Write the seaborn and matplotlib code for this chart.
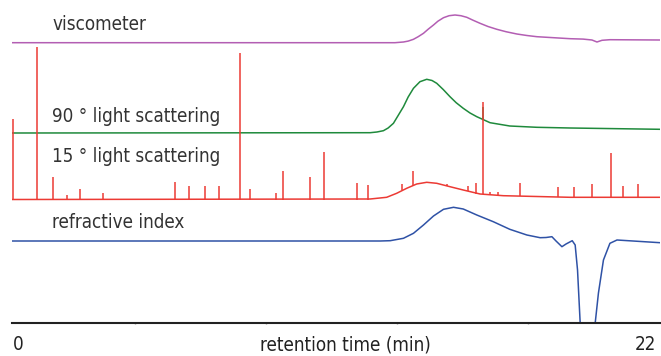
import matplotlib.pyplot as plt
import seaborn as sns
import pandas as pd

# detector traces (time in min, signal in arbitrary units)
visc_t = [0, 13.00, 13.29, 13.45, 13.63, 13.79, 13.97, 14.13, 14.31, 14.46, 14.65, 14.84,
          15.04, 15.24, 15.44, 15.65, 15.89, 16.16, 16.46, 16.77, 17.14, 17.48, 17.82,
          18.95, 19.39, 19.69, 19.86, 20.03, 20.30, 22.0]
visc_y = [0, 0, 0.7, 1.6, 3.4, 6, 9.4, 13.5, 17.7, 21.5, 25, 27,
          27.7, 27, 25.4, 22.5, 19.4, 16.2, 13.4, 11, 8.7, 7.2, 6,
          4, 3.6, 2.7, 0.7, 2.4, 3, 2.7]

ls90_t = [0, 12.16, 12.39, 12.61, 12.77, 12.95, 13.11, 13.29, 13.45, 13.63, 13.85, 14.08,
          14.26, 14.42, 14.64, 14.87, 15.08, 15.32, 15.55, 15.78, 16.23, 16.90, 17.82,
          18.95, 22.0]
ls90_y = [0, 0.3, 1, 2.3, 5, 9.7, 17.5, 26.3, 36, 44.7, 51.3, 53.7,
          52.5, 49.7, 43.5, 36.3, 30.3, 24.7, 20, 16.3, 10.3, 7, 5.7,
          5, 3.7]

ls15_t = [0, 12.16, 12.72, 13.06, 13.40, 13.74, 14.08, 14.42, 14.87, 15.32, 15.89,
          16.68, 18.95, 22.0]
ls15_y = [0, 0.5, 2.2, 6.2, 11.2, 15.5, 17.2, 16.2, 12.8, 9.5, 5.5,
          3.8, 2.2, 2.2]

# noise spikes on the 15 degree trace: time, foot, top
spike_t = [0.03, 0.85, 1.39, 1.87, 2.31, 3.09, 5.53, 6.01, 6.55, 7.03, 7.74, 8.08, 8.96,
           9.20, 10.12, 10.59, 11.71, 12.09, 13.25, 13.63, 14.76, 15.47, 15.76, 15.99,
           16.23, 16.49, 17.25, 18.55, 19.08, 19.69, 20.34, 20.75, 21.26]
spike_lo = [0, 0, 0, 0, 0, 0, 0, 0, 0, 0, 0, 0, 0,
            0, 0, 0, 0, 0, 9.5, 14, 13.5, 8.5, 6, 5.5,
            4.5, 4, 3.5, 2.6, 2.5, 2.4, 2.3, 2.2, 2.2]
spike_hi = [81, 153, 23, 5, 11, 7, 18, 14, 14, 14, 147, 11, 7,
            29, 23, 48, 17, 15, 15.5, 28.5, 15.5, 13.5, 16.8, 97.5,
            7.2, 7.2, 16.8, 12.8, 12.5, 15.5, 46.5, 13.5, 15.5]

ri_t = [0, 12.50, 12.84, 13.29, 13.63, 13.97, 14.31, 14.65, 14.99, 15.32, 15.78, 16.34,
        16.90, 17.48, 17.93, 18.13, 18.33, 18.47, 18.67, 18.81, 19.02, 19.12, 19.20,
        19.29, 19.50, 19.69, 19.80, 19.91, 20.08, 20.30, 20.54, 22.0]
ri_y = [0, 0, 0.3, 2.7, 7.7, 16, 25, 31.7, 33.7, 32, 26, 19.3,
        11.7, 6, 3.3, 3.5, 4.3, 0, -5.7, -3, 0.3, -4, -29,
        -82, -200, -140, -82, -52, -19, -2.3, 1, -1.7]

traces = [
    ("viscometer", visc_t, visc_y, 280.3, "#b35eb3", 299),
    ("90 ° light scattering", ls90_t, ls90_y, 190.0, "#1f8a3c", 207),
    ("15 ° light scattering", ls15_t, ls15_y, 123.5, "#ec3a34", 167),
    ("refractive index", ri_t, ri_y, 82.0, "#2f52a6", 100),
]

sns.set_style("white")
plt.rcParams["font.family"] = ["DejaVu Sans"]
plt.rcParams["font.stretch"] = "condensed"

fig = plt.figure(figsize=(6.61, 3.56), dpi=100)
ax = fig.add_axes([12 / 661, 33 / 356, 648 / 661, 323 / 356])

for name, t, y, off, col, ylab in traces:
    df = pd.DataFrame({"t": t, "y": [off + v for v in y]})
    sns.lineplot(data=df, x="t", y="y", ax=ax, color=col, lw=1.1,
                 estimator=None, sort=False)
    ax.text(1.36, ylab, name, fontsize=13.5, fontstretch="condensed", color="#333333",
            va="center", ha="left")
    if name.startswith("15"):
        ax.vlines(spike_t, [off + v for v in spike_lo], [off + v for v in spike_hi],
                  color=col, lw=1.1)
    if name.startswith("90"):
        ax.vlines([15.99], [off + 13.7], [off + 26], color=col, lw=1.1)

ax.set_xlim(0, 22)
ax.set_ylim(0, 323)
ax.set_xlabel("")
ax.set_ylabel("")
ax.set_yticks([])
ax.set_xticks([4.18, 8.63, 13.07, 17.52])
ax.set_xticklabels([])
ax.tick_params(axis="x", length=2, width=1, color="#999999", direction="inout", bottom=True)
for s in ["top", "right", "left"]:
    ax.spines[s].set_visible(False)
ax.spines["bottom"].set_color("#222222")
ax.spines["bottom"].set_linewidth(1.5)
ax.spines["bottom"].set_zorder(5)

for x, s in [(18, "0"), (645, "22"), (345, "retention time (min)")]:
    fig.text(x / 661, 1 - 345 / 356, s, fontsize=13.5, fontstretch="condensed",
             color="#222222", ha="center", va="center")

fig.savefig("out.png", dpi=100)
